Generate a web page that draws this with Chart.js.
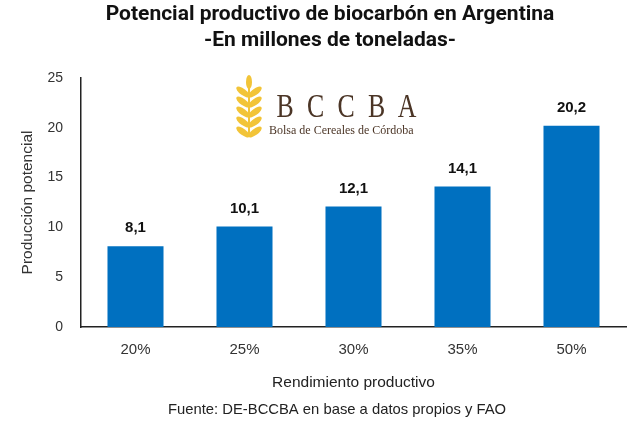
<!DOCTYPE html>
<html>
<head>
<meta charset="utf-8">
<script src="https://cdn.jsdelivr.net/npm/chart.js@4"></script>
<style>
  html, body { margin: 0; padding: 0; background: #fff; }
  #wrap { width: 632px; height: 423px; position: relative; }
</style>
</head>
<body>
<div id="wrap"><canvas id="biocarbonChart"></canvas></div>
<script>
/* #region  DATA */
const categories = ["20%", "25%", "30%", "35%", "50%"];
const production = [8.1, 10.1, 12.1, 14.1, 20.2];
const yTicks = [0, 5, 10, 15, 20, 25];
const titleLines = ["Potencial productivo de biocarbón en Argentina", "-En millones de toneladas-"];
const sourceNote = "Fuente: DE-BCCBA en base a datos propios y FAO";
/* #endregion */

/* #region  PLUGINS */
// bold value labels above each bar, comma decimal like the original
const valueLabels = {
  id: "valueLabels",
  afterDatasetsDraw(chart) {
    const ctx = chart.ctx;
    const meta = chart.getDatasetMeta(0);
    ctx.save();
    ctx.font = "bold 15px 'Liberation Sans', Arial, sans-serif";
    ctx.fillStyle = "#111";
    ctx.textAlign = "center";
    ctx.textBaseline = "middle";
    meta.data.forEach((bar, i) => {
      const txt = production[i].toFixed(1).replace(".", ",");
      ctx.fillText(txt, bar.x, bar.y - 18);
    });
    ctx.restore();
  },
};

// titles, source line and the BCCBA mark
const decorations = {
  id: "decorations",
  afterDraw(chart) {
    const ctx = chart.ctx;
    ctx.save();
    ctx.fillStyle = "#111";
    ctx.textAlign = "center";
    ctx.textBaseline = "middle";
    ctx.font = "bold 21px Roboto, sans-serif";
    ctx.fillText(titleLines[0], 330, 15);
    ctx.fillText(titleLines[1], 330, 41);

    ctx.font = "14.8px 'Liberation Sans', Arial, sans-serif";
    ctx.fillStyle = "#222";
    ctx.fillText(sourceNote, 337, 410);

    // wheat ear
    ctx.fillStyle = "#f2c438";
    ctx.strokeStyle = "#f2c438";
    ctx.lineWidth = 2;
    ctx.beginPath();
    ctx.moveTo(249, 82);
    ctx.lineTo(249, 137);
    ctx.stroke();
    for (let k = 0; k < 5; k++) {
      const y = 92 + k * 10;
      ctx.beginPath();
      ctx.ellipse(243, y, 8, 3.2, Math.PI / 5, 0, Math.PI * 2);
      ctx.fill();
      ctx.beginPath();
      ctx.ellipse(255, y, 8, 3.2, -Math.PI / 5, 0, Math.PI * 2);
      ctx.fill();
    }
    ctx.beginPath();
    ctx.ellipse(249, 82, 3, 7, 0, 0, Math.PI * 2);
    ctx.fill();

    ctx.fillStyle = "#4b3526";
    ctx.textAlign = "center";
    ctx.textBaseline = "alphabetic";
    ctx.font = "34px 'Liberation Serif', 'DejaVu Serif', serif";
    const letters = "BCCBA";
    for (let k = 0; k < letters.length; k++) {
      ctx.save();
      ctx.translate(285 + k * 30.5, 117);
      ctx.scale(0.76, 1);
      ctx.fillText(letters[k], 0, 0);
      ctx.restore();
    }
    ctx.textAlign = "left";
    ctx.font = "12px 'Liberation Serif', 'DejaVu Serif', serif";
    ctx.fillText("Bolsa de Cereales de Córdoba", 269, 134);
    ctx.restore();
  },
};
/* #endregion */

/* #region  CHART */
Chart.defaults.font.family = "'Liberation Sans', Arial, sans-serif";
Chart.defaults.font.size = 14;
Chart.defaults.color = "#333";

let biocarbonChart = document.getElementById("biocarbonChart").getContext("2d");

let biocarbonChartCanvas = new Chart(biocarbonChart, {
  type: "bar",
  data: {
    labels: categories,
    datasets: [
      {
        label: "Producción potencial",
        data: production,
        backgroundColor: "#0070c0",
        categoryPercentage: 1,
        barPercentage: 0.514,
      },
    ],
  },
  options: {
    responsive: true,
    maintainAspectRatio: false,
    animation: false,
    layout: {
      padding: { top: 78, right: 6, bottom: 31, left: 0 },
    },
    plugins: {
      legend: { display: false },
      tooltip: { enabled: false },
    },
    scales: {
      x: {
        afterFit(axis) {
          axis.height = 65;
        },
        grid: { display: false },
        border: { display: true, color: "#222", width: 1.5 },
        ticks: { padding: 6, color: "#333", font: { size: 15 } },
        title: {
          display: true,
          text: "Rendimiento productivo",
          color: "#222",
          font: { size: 15.5 },
          padding: { top: 0, bottom: 0 },
        },
      },
      y: {
        min: 0,
        max: 25,
        afterBuildTicks(axis) {
          axis.ticks = yTicks.map((v) => ({ value: v }));
        },
        afterFit(axis) {
          axis.width = 81;
        },
        grid: { display: false },
        border: { display: true, color: "#222", width: 1.5 },
        ticks: { padding: 10, color: "#333" },
        title: {
          display: true,
          text: "Producción potencial",
          color: "#333",
          font: { size: 15.5 },
          padding: { top: 18, bottom: 0 },
        },
      },
    },
  },
  plugins: [valueLabels, decorations],
});
/* #endregion */
</script>
</body>
</html>
